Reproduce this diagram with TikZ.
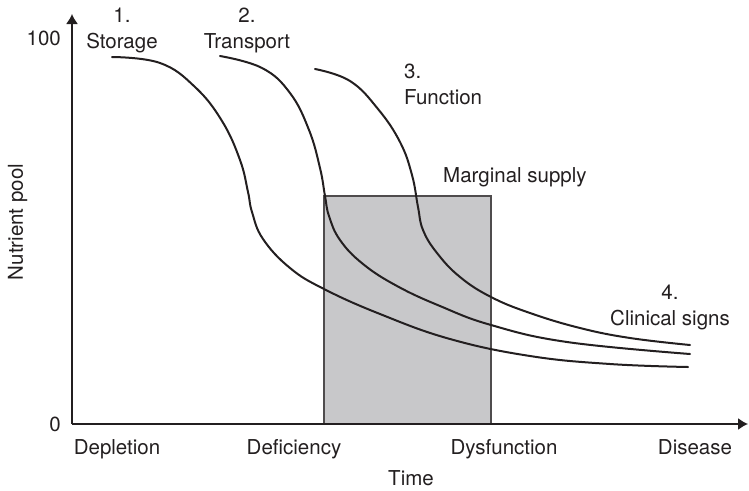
\documentclass[tikz,border=0pt]{standalone}
\usepackage{fontspec}
\setmainfont{TeX Gyre Heros}
\usetikzlibrary{arrows.meta}

\definecolor{ink}{RGB}{35,31,32}
\definecolor{boxgray}{RGB}{200,200,202}

\begin{document}
\begin{tikzpicture}[x=1pt,y=-1pt,
	font=\fontsize{20.5}{26}\selectfont,
	every node/.style={text=ink,inner sep=0pt},
	curve/.style={ink,line width=2pt,line cap=round},
	axis/.style={ink,line width=1.5pt,-{Latex[length=10pt,width=12pt]}}]
\useasboundingbox (0,0) rectangle (749,490);

\def\xo{72}
\def\yo{424}

\coordinate (O) at (\xo,\yo);
\coordinate (Y) at (\xo,14);
\coordinate (X) at (748,\yo);

\coordinate (A) at (324,\yo);
\coordinate (B) at (491,196);

% marginal supply
\filldraw[fill=boxgray,draw=ink!80,line width=1.2pt] (A) rectangle (B);

% 1. storage
\draw[curve] plot[smooth,tension=0.7] coordinates {(112,57) (160,63) (195,87)
	(222,121) (240,160) (248,192) (252,212) (263,239) (290,268) (324,289)
	(380,314) (450,339) (530,356) (610,364) (688,367)};
% 2. transport
\draw[curve] plot[smooth,tension=0.7] coordinates {(220,56) (262,68) (290,93)
	(309,130) (320,168) (325,196) (329,216) (340,240) (363,264) (397,286)
	(440,306) (491,325) (567,342) (690,354)};
% 3. function
\draw[curve] plot[smooth,tension=0.7] coordinates {(315,69) (350,81) (378,109)
	(400,142) (412,175) (418,207) (423,230) (437,253) (460,277) (491,297)
	(530,313) (580,328) (630,338) (690,345)};

\draw[axis] (O)--(Y);
\draw[axis] (O)--(X);

\node (top) at (61,45) [anchor=base east] {100};
\node (zero) at (61,431) [anchor=base east] {0};
\node (pool) at (23,222) [anchor=base,rotate=90] {Nutrient pool};
\node (time) at (411,485) [anchor=base] {Time};

\foreach \x/\t in {117/Depletion,294/Deficiency,504/Dysfunction,695/Disease}
	\node (\t) at (\x,454) [anchor=base] {\t};

% base anchor sits on the last line
\node (storage) at (122,48) [anchor=base,align=center] {1.\\Storage};
\node (transport) at (247,48) [anchor=base,align=center] {2.\\Transport};
\node (function) at (404,104) [anchor=base west,align=left] {3.\\Function};
\node (clinical) at (670,325) [anchor=base,align=center] {4.\\Clinical signs};
\node (marginal) at (443,182) [anchor=base west] {Marginal supply};

\end{tikzpicture}
\end{document}
